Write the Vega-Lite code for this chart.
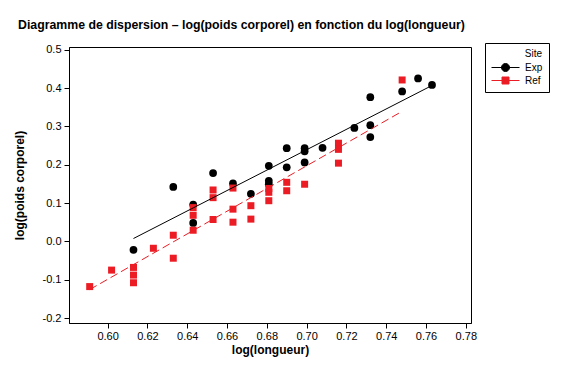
{
  "$schema": "https://vega.github.io/schema/vega-lite/v6.json",
  "width": 402,
  "height": 276,
  "autosize": "none",
  "padding": {"left": 69, "top": 47, "right": 90, "bottom": 51},
  "background": "white",
  "title": {
    "text": "Diagramme de dispersion – log(poids corporel) en fonction du log(longueur)",
    "anchor": "start",
    "frame": "group",
    "dx": -51,
    "offset": 11,
    "font": "Liberation Sans",
    "fontSize": 12.3,
    "fontWeight": "bold",
    "color": "black"
  },
  "config": {
    "font": "Liberation Sans",
    "view": {"stroke": "black", "strokeWidth": 1},
    "axis": {
      "grid": false,
      "domainColor": "black",
      "tickColor": "black",
      "tickSize": 5,
      "labelColor": "black",
      "labelFont": "Liberation Sans",
      "labelFontSize": 11,
      "titleColor": "black",
      "titleFont": "Liberation Sans",
      "titleFontSize": 12,
      "titleFontWeight": "bold"
    }
  },
  "data": {
    "values": [
      {"x": 0.613, "y": -0.022, "Site": "Exp"},
      {"x": 0.633, "y": 0.142, "Site": "Exp"},
      {"x": 0.643, "y": 0.096, "Site": "Exp"},
      {"x": 0.643, "y": 0.048, "Site": "Exp"},
      {"x": 0.653, "y": 0.178, "Site": "Exp"},
      {"x": 0.663, "y": 0.151, "Site": "Exp"},
      {"x": 0.672, "y": 0.124, "Site": "Exp"},
      {"x": 0.681, "y": 0.197, "Site": "Exp"},
      {"x": 0.681, "y": 0.158, "Site": "Exp"},
      {"x": 0.681, "y": 0.149, "Site": "Exp"},
      {"x": 0.690, "y": 0.243, "Site": "Exp"},
      {"x": 0.690, "y": 0.193, "Site": "Exp"},
      {"x": 0.699, "y": 0.243, "Site": "Exp"},
      {"x": 0.699, "y": 0.235, "Site": "Exp"},
      {"x": 0.699, "y": 0.206, "Site": "Exp"},
      {"x": 0.708, "y": 0.244, "Site": "Exp"},
      {"x": 0.724, "y": 0.296, "Site": "Exp"},
      {"x": 0.732, "y": 0.376, "Site": "Exp"},
      {"x": 0.732, "y": 0.303, "Site": "Exp"},
      {"x": 0.732, "y": 0.272, "Site": "Exp"},
      {"x": 0.748, "y": 0.391, "Site": "Exp"},
      {"x": 0.756, "y": 0.425, "Site": "Exp"},
      {"x": 0.763, "y": 0.408, "Site": "Exp"},
      {"x": 0.591, "y": -0.118, "Site": "Ref"},
      {"x": 0.602, "y": -0.075, "Site": "Ref"},
      {"x": 0.613, "y": -0.068, "Site": "Ref"},
      {"x": 0.613, "y": -0.088, "Site": "Ref"},
      {"x": 0.613, "y": -0.108, "Site": "Ref"},
      {"x": 0.623, "y": -0.018, "Site": "Ref"},
      {"x": 0.633, "y": 0.016, "Site": "Ref"},
      {"x": 0.633, "y": -0.044, "Site": "Ref"},
      {"x": 0.643, "y": 0.088, "Site": "Ref"},
      {"x": 0.643, "y": 0.068, "Site": "Ref"},
      {"x": 0.643, "y": 0.029, "Site": "Ref"},
      {"x": 0.653, "y": 0.134, "Site": "Ref"},
      {"x": 0.653, "y": 0.114, "Site": "Ref"},
      {"x": 0.653, "y": 0.057, "Site": "Ref"},
      {"x": 0.663, "y": 0.139, "Site": "Ref"},
      {"x": 0.663, "y": 0.084, "Site": "Ref"},
      {"x": 0.663, "y": 0.050, "Site": "Ref"},
      {"x": 0.672, "y": 0.093, "Site": "Ref"},
      {"x": 0.672, "y": 0.058, "Site": "Ref"},
      {"x": 0.681, "y": 0.138, "Site": "Ref"},
      {"x": 0.681, "y": 0.128, "Site": "Ref"},
      {"x": 0.681, "y": 0.106, "Site": "Ref"},
      {"x": 0.690, "y": 0.154, "Site": "Ref"},
      {"x": 0.690, "y": 0.132, "Site": "Ref"},
      {"x": 0.699, "y": 0.149, "Site": "Ref"},
      {"x": 0.716, "y": 0.256, "Site": "Ref"},
      {"x": 0.716, "y": 0.240, "Site": "Ref"},
      {"x": 0.716, "y": 0.204, "Site": "Ref"},
      {"x": 0.748, "y": 0.421, "Site": "Ref"}
    ]
  },
  "encoding": {
    "x": {
      "field": "x",
      "type": "quantitative",
      "scale": {"domain": [0.5806, 0.7826], "nice": false, "zero": false},
      "axis": {
        "title": "log(longueur)",
        "values": [0.60, 0.62, 0.64, 0.66, 0.68, 0.70, 0.72, 0.74, 0.76, 0.78],
        "format": ".2f",
        "labelPadding": 2,
        "titlePadding": 3
      }
    },
    "y": {
      "field": "y",
      "type": "quantitative",
      "scale": {"domain": [-0.213, 0.507], "nice": false, "zero": false},
      "axis": {
        "title": "log(poids corporel)",
        "values": [-0.2, -0.1, 0.0, 0.1, 0.2, 0.3, 0.4, 0.5],
        "labelExpr": "replace(format(datum.value, '.1f'), '\u2212', '-')",
        "labelPadding": 3,
        "titlePadding": 16
      }
    }
  },
  "layer": [
    {
      "transform": [{"filter": "datum.Site === 'Exp'"}],
      "mark": {"type": "point", "shape": "circle", "filled": true, "opacity": 1, "color": "black", "size": 60}
    },
    {
      "transform": [{"filter": "datum.Site === 'Ref'"}],
      "mark": {"type": "point", "shape": "square", "filled": true, "opacity": 1, "color": "#ec1c24", "size": 49}
    },
    {
      "transform": [
        {"filter": "datum.Site === 'Exp'"},
        {"regression": "y", "on": "x"}
      ],
      "mark": {"type": "line", "color": "black", "strokeWidth": 1}
    },
    {
      "transform": [
        {"filter": "datum.Site === 'Ref'"},
        {"regression": "y", "on": "x"}
      ],
      "mark": {"type": "line", "color": "#ec1c24", "strokeWidth": 1, "strokeDash": [8, 4]}
    },
    {
      "transform": [{"filter": "false"}],
      "mark": {"type": "point", "filled": true, "opacity": 1},
      "encoding": {
        "color": {
          "field": "Site",
          "type": "nominal",
          "scale": {"domain": ["Exp", "Ref"], "range": ["black", "#ec1c24"]},
          "legend": {
            "orient": "none",
            "legendX": 416,
            "legendY": -4,
            "title": "Site",
            "titleAnchor": "end",
            "titleFont": "Liberation Sans",
            "titleFontSize": 10,
            "titleFontWeight": "normal",
            "titleColor": "black",
            "titlePadding": 3,
            "labelFont": "Liberation Sans",
            "labelFontSize": 10,
            "labelColor": "black",
            "labelOffset": 14,
            "symbolSize": 100,
            "symbolOffset": 9,
            "symbolStrokeWidth": 1,
            "strokeColor": "black",
            "fillColor": "white",
            "padding": 6,
            "rowPadding": 1
          }
        },
        "stroke": {
          "field": "Site",
          "type": "nominal",
          "scale": {"domain": ["Exp", "Ref"], "range": ["black", "#ec1c24"]}
        },
        "shape": {
          "field": "Site",
          "type": "nominal",
          "scale": {
            "domain": ["Exp", "Ref"],
            "range": [
              "M-2.8,0H2.8M0.8,0A0.8,0.8,0,1,1,-0.8,0A0.8,0.8,0,1,1,0.8,0Z",
              "M-2.8,0H2.8M-0.7,-0.7H0.7V0.7H-0.7Z"
            ]
          }
        }
      }
    }
  ]
}
